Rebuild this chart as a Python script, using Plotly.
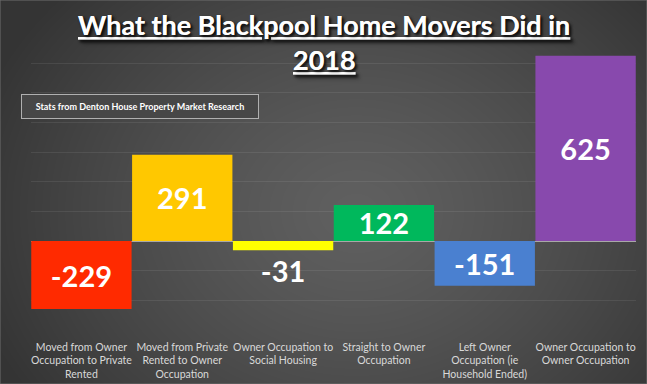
import zlib, struct, base64
import numpy as np
import plotly.graph_objects as go

W, H = 647, 384

# ---- data ----
categories = ["c1", "c2", "c3", "c4", "c5", "c6"]
tick_labels = [
    "Moved from Owner<br>Occupation to Private<br>Rented",
    "Moved from Private<br>Rented to Owner<br>Occupation",
    "Owner Occupation to<br>Social Housing",
    "Straight to Owner<br>Occupation",
    "Left Owner<br>Occupation (ie<br>Household Ended)",
    "Owner Occupation to<br>Owner Occupation",
]
values = [-229, 291, -31, 122, -151, 625]
bar_colors = ["#ff2a00", "#ffc800", "#ffff00", "#00b85c", "#4a80d0", "#8849ad"]
text_positions = ["inside", "inside", "outside", "inside", "inside", "inside"]

title_line1 = "What the Blackpool Home Movers Did in"
title_line2 = "2018"
source_note = "Stats from Denton House Property Market Research"

# ---- background radial gradient as PNG ----
def png_gray(arr):
    h, w = arr.shape
    raw = b"".join(b"\x00" + arr[i].tobytes() for i in range(h))
    def chunk(t, d):
        c = struct.pack(">I", len(d)) + t + d
        return c + struct.pack(">I", zlib.crc32(t + d) & 0xFFFFFFFF)
    ihdr = struct.pack(">IIBBBBB", w, h, 8, 0, 0, 0, 0)
    return (b"\x89PNG\r\n\x1a\n" + chunk(b"IHDR", ihdr)
            + chunk(b"IDAT", zlib.compress(raw, 9)) + chunk(b"IEND", b""))

yy, xx = np.mgrid[0:H, 0:W]
cx, cy = W * 0.55, H * 0.55
d = np.sqrt(((xx - cx) / (W * 0.62)) ** 2 + ((yy - cy) / (H * 0.85)) ** 2)
d = np.clip(d, 0, 1)
bg = (96 - (96 - 52) * d ** 1.3).astype(np.uint8)
bg_uri = "data:image/png;base64," + base64.b64encode(png_gray(bg)).decode()

fig = go.Figure()
fig.add_trace(go.Bar(
    x=categories, y=values,
    marker=dict(color=bar_colors, line=dict(width=0)),
    text=[str(v) for v in values],
    textposition=text_positions,
    insidetextanchor="middle",
    constraintext="none",
    textfont=dict(family="Lato", size=29, color="white", weight="bold"),
    outsidetextfont=dict(family="Lato", size=29, color="white", weight="bold"),
    cliponaxis=False,
    hoverinfo="skip",
))

x0, x1 = 31 / W, 636 / W
y_top, y_bot = 1 - 33.5 / H, 1 - 330 / H

title_font = dict(family="Lato", size=27, color="white", weight="bold",
                  lineposition="under", shadow="2px 2px 3px rgba(0,0,0,0.6)")

fig.update_layout(
    width=W, height=H,
    margin=dict(l=0, r=0, t=0, b=0),
    paper_bgcolor="#444444",
    plot_bgcolor="rgba(0,0,0,0)",
    bargap=0.005,
    showlegend=False,
    images=[dict(source=bg_uri, xref="paper", yref="paper", x=0, y=1,
                 sizex=1, sizey=1, sizing="stretch", layer="below",
                 xanchor="left", yanchor="top")],
    xaxis=dict(domain=[x0, x1], tickmode="array", tickvals=categories,
               ticktext=tick_labels, showgrid=False, showline=False,
               ticks="", ticklabelstandoff=9,
               tickfont=dict(family="Lato", size=10.5, color="#d9d9d9")),
    yaxis=dict(domain=[y_bot, y_top], range=[-300, 700], dtick=100,
               showticklabels=False, showgrid=True,
               gridcolor="rgba(255,255,255,0.08)", gridwidth=1,
               zeroline=True, zerolinecolor="#a8a8a8", zerolinewidth=1),
    shapes=[dict(type="rect", xref="paper", yref="paper", x0=0, x1=1, y0=0, y1=1,
                 line=dict(color="#6e6e6e", width=1), fillcolor="rgba(0,0,0,0)")],
    annotations=[
        dict(text=title_line1, xref="paper", yref="paper", x=324 / W, y=1 - 25 / H,
             xanchor="center", yanchor="middle", showarrow=False, font=title_font),
        dict(text=title_line2, xref="paper", yref="paper", x=324 / W, y=1 - 59 / H,
             xanchor="center", yanchor="middle", showarrow=False, font=title_font),
        dict(text=source_note, xref="paper", yref="paper", x=140 / W, y=1 - 106.5 / H,
             xanchor="center", yanchor="middle", showarrow=False,
             width=232, height=19, bgcolor="#474747", bordercolor="#b0b0b0",
             borderwidth=1, borderpad=2,
             font=dict(family="Lato", size=9, color="white", weight="bold")),
    ],
)

fig.write_html("out.html", config={"displayModeBar": False},
               post_script="document.body.style.margin='0';document.body.style.overflow='hidden';")
